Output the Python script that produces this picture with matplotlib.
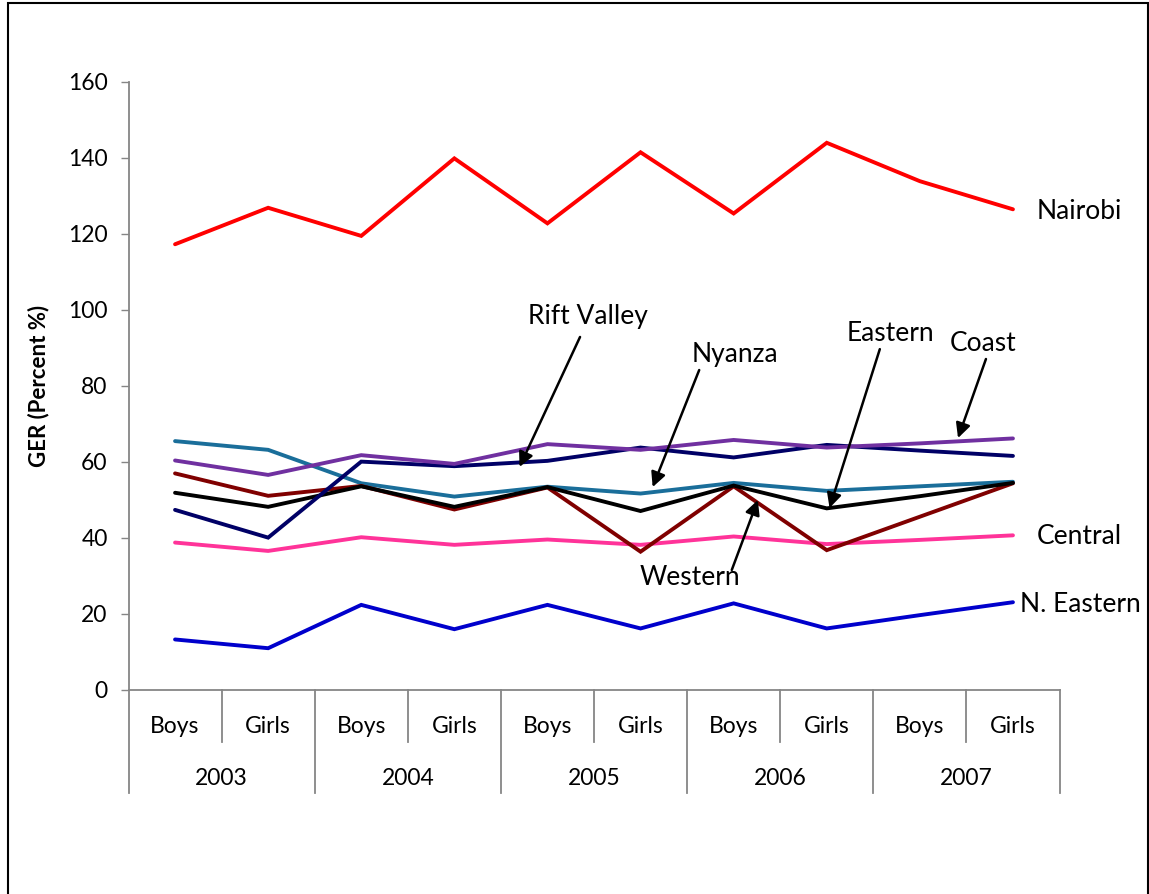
import matplotlib
matplotlib.use("Agg")
import matplotlib.pyplot as plt
import matplotlib.transforms as mtransforms
from matplotlib.patches import Rectangle

plt.rcParams['font.family'] = ['Lato', 'DejaVu Sans']

# ---- data ----
years = ["2003", "2004", "2005", "2006", "2007"]
genders = ["Boys", "Girls"]

nairobi = [117.3, 126.9, 119.5, 139.9, 122.8, 141.5, 125.4, 144.0, 133.9, 126.5]
coast = [60.4, 56.6, 61.8, 59.5, 64.7, 63.2, 65.8, 63.8, 64.9, 66.2]
rift_valley = [47.4, 40.1, 60.1, 58.9, 60.3, 63.8, 61.2, 64.5, 63.0, 61.6]
nyanza = [65.5, 63.2, 54.4, 50.9, 53.5, 51.7, 54.5, 52.4, 53.6, 54.8]
eastern = [51.9, 48.2, 53.6, 48.2, 53.4, 47.1, 53.8, 47.8, 51.0, 54.5]
western = [57.0, 51.1, 53.7, 47.5, 53.3, 36.4, 53.6, 36.8, 45.6, 54.4]
central = [38.8, 36.6, 40.2, 38.2, 39.6, 38.2, 40.4, 38.4, 39.5, 40.7]
n_eastern = [13.3, 11.0, 22.4, 16.0, 22.4, 16.2, 22.8, 16.2, 19.7, 23.1]

series = [
    ("Nairobi", nairobi, "#FF0000"),
    ("Central", central, "#FF3399"),
    ("N. Eastern", n_eastern, "#0000CC"),
    ("Nyanza", nyanza, "#1A6E9A"),
    ("Western", western, "#800000"),
    ("Eastern", eastern, "#000000"),
    ("Rift Valley", rift_valley, "#000066"),
    ("Coast", coast, "#7030A0"),
]

# ---- figure ----
W, H = 1149, 894
fig = plt.figure(figsize=(W / 100, H / 100), dpi=100)
fig.patches.append(Rectangle((8 / W, -0.05), (1148 - 8) / W, 1.05 - 3 / H,
                             transform=fig.transFigure, fill=False,
                             edgecolor="black", linewidth=1.5))

ax = fig.add_axes([128.5 / W, 1 - 690 / H, (1059.5 - 128.5) / W, (690 - 82) / H])
n = len(years) * len(genders)
xs = list(range(n))
for name, vals, col in series:
    ax.plot(xs, vals, color=col, linewidth=2.8, solid_capstyle="round",
            solid_joinstyle="miter")

ax.set_xlim(-0.5, n - 0.5)
ax.set_ylim(0, 160)
ax.set_yticks(range(0, 161, 20))
ax.tick_params(axis="y", length=6, width=1, color="#868686", labelsize=16.5,
               pad=9, labelcolor="black")
ax.set_xticks([])
for s in ["top", "right"]:
    ax.spines[s].set_visible(False)
for s in ["left", "bottom"]:
    ax.spines[s].set_color("#868686")
    ax.spines[s].set_linewidth(1.3)
ax.set_ylabel("GER (Percent %)", fontsize=16, fontweight="bold")
ax.yaxis.set_label_coords(-0.085, 0.5)

# multi-level category axis
trans = mtransforms.blended_transform_factory(ax.transData, ax.transAxes)
y_short = -0.0855
y_long = -0.169
for i in range(n + 1):
    xb = i - 0.5
    yend = y_long if i % 2 == 0 else y_short
    ax.plot([xb, xb], [0, yend], transform=trans, color="#868686",
            linewidth=1.3, clip_on=False)
for i in range(n):
    ax.text(i, -0.0595, genders[i % 2], transform=trans, ha="center",
            va="center", fontsize=16.5)
for j, yr in enumerate(years):
    ax.text(2 * j + 0.5, -0.146, yr, transform=trans, ha="center",
            va="center", fontsize=16.5)

# labels and annotations (layout)
plain_labels = [("Nairobi", 9.71, 126.0), ("Central", 9.71, 40.5),
                ("N. Eastern", 9.72, 22.6)]
for txt, x, y in plain_labels:
    ax.text(x, y, txt, ha="center", va="center", fontsize=19, clip_on=False)

arrow_labels = [
    ("Rift Valley", (4.44, 98.2), (4.35, 92.9), (3.70, 58.7)),
    ("Nyanza", (6.01, 88.4), (5.63, 84.2), (5.13, 53.4)),
    ("Eastern", (7.68, 93.7), (7.57, 89.7), (7.03, 47.9)),
    ("Coast", (8.68, 91.3), (8.71, 87.1), (8.41, 66.3)),
    ("Western", (5.53, 29.5), (5.98, 31.6), (6.26, 50.0)),
]
for txt, tpos, tail, tip in arrow_labels:
    ax.text(tpos[0], tpos[1], txt, ha="center", va="center", fontsize=19)
    ax.annotate("", xy=tip, xytext=tail,
                arrowprops=dict(arrowstyle="-|>", color="black", lw=1.8,
                                mutation_scale=22, shrinkA=0, shrinkB=0))

fig.savefig("out.png", dpi=100)
